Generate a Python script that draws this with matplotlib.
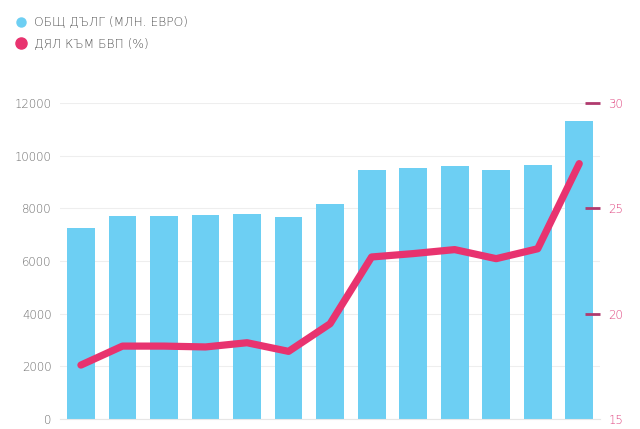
import matplotlib.pyplot as plt
from matplotlib.lines import Line2D

plt.rcParams['font.family'] = ['DejaVu Sans']

# данни, отчетени от графиката
periods = list(range(13))
debt = [7250, 7720, 7710, 7750, 7785, 7660, 8150, 9455, 9520, 9620, 9455, 9645, 11330]
gdp_share = [17.56, 18.46, 18.46, 18.42, 18.62, 18.21, 19.52, 22.69, 22.85, 23.04, 22.61, 23.08, 27.12]

left_ticks = [0, 2000, 4000, 6000, 8000, 10000, 12000]
right_ticks = [15, 20, 25, 30]
legend_labels = ['ОБЩ ДЪЛГ (МЛН. ЕВРО)', 'ДЯЛ КЪМ БВП (%)']

bar_color = '#6dcff3'
line_color = '#e8336f'
pink_text = '#e04580'

fig = plt.figure(figsize=(6.4, 4.29), dpi=100)
ax = fig.add_axes([0.094, 0.0233, 0.8435, 0.7367])

ax.bar(periods, debt, width=0.67, color=bar_color, zorder=2)
ax.set_xlim(-0.5, 12.5)
ax.set_ylim(0, 12000)
ax.set_yticks(left_ticks)
ax.set_yticklabels([str(t) for t in left_ticks], fontweight='light')
ax.set_xticks([])
ax.grid(axis='y', color='#eeeeee', linewidth=0.8, zorder=0)
ax.tick_params(axis='y', length=0, pad=6, labelsize=8.5, labelcolor='#6e6e6e')
for s in ['top', 'right', 'left']:
    ax.spines[s].set_visible(False)
ax.spines['bottom'].set_color('#e6e6e6')
ax.spines['bottom'].set_linewidth(0.8)

ax2 = ax.twinx()
ax2.plot(periods, gdp_share, color=line_color, linewidth=5.2,
         solid_capstyle='round', solid_joinstyle='round', zorder=3)
ax2.set_ylim(15, 30)
ax2.set_yticks(right_ticks)
ax2.set_yticklabels([str(t) for t in right_ticks], fontweight='light')
ax2.tick_params(axis='y', direction='in', length=11, width=2, color='#b03a6e',
                pad=6, labelsize=8.5, labelcolor=pink_text)
ax2.yaxis.get_major_ticks()[0].tick2line.set_visible(False)
for s in ax2.spines.values():
    s.set_visible(False)

# легенда
for i, (lbl, col, ms) in enumerate(zip(legend_labels, [bar_color, line_color], [6.5, 8])):
    y = 1 - (22 + 21 * i) / 429
    fig.add_artist(Line2D([21 / 640], [y], transform=fig.transFigure, marker='o',
                          linestyle='none', markersize=ms,
                          markerfacecolor=col, markeredgecolor=col))
    fig.text(34 / 640, y, lbl, fontsize=8.8, color='#555555', fontweight='light',
             va='center', ha='left')

fig.savefig('out.png', dpi=100)
